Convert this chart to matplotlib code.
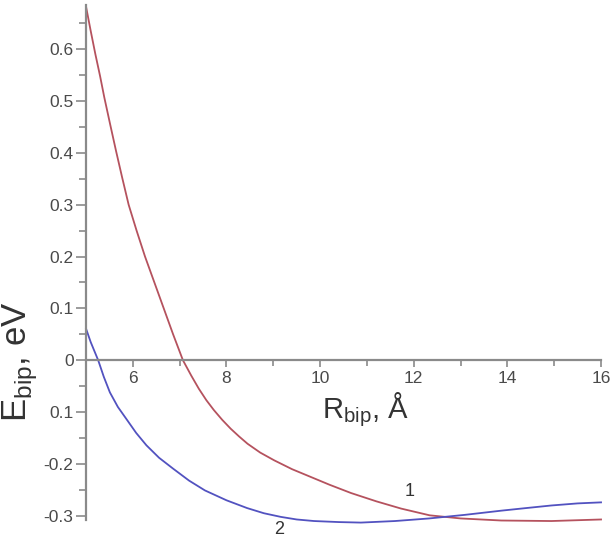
import matplotlib
matplotlib.use('Agg')
import matplotlib.pyplot as plt
from matplotlib.ticker import MultipleLocator, FixedLocator

plt.rcParams['font.family'] = ['Liberation Sans', 'DejaVu Sans']
plt.rcParams['mathtext.fontset'] = 'custom'
plt.rcParams['mathtext.rm'] = 'Liberation Sans'

# curve 1 (red)
r1 = [5.0, 5.1, 5.2, 5.3, 5.39, 5.52, 5.64, 5.77, 5.91, 6.08, 6.26, 6.46,
      6.66, 6.86, 7.07, 7.25, 7.41, 7.57, 7.73, 7.91, 8.09, 8.27, 8.45, 8.72,
      9.02, 9.4, 9.80, 10.2, 10.66, 11.2, 11.73, 12.34, 13.0, 13.87, 14.94, 16.0]
e1 = [0.682, 0.635, 0.59, 0.548, 0.507, 0.453, 0.404, 0.353, 0.3, 0.25, 0.2, 0.15,
      0.1, 0.05, 0.0, -0.03, -0.055, -0.077, -0.096, -0.115, -0.132, -0.147,
      -0.161, -0.178, -0.193, -0.21, -0.225, -0.24, -0.256, -0.272, -0.286,
      -0.299, -0.305, -0.309, -0.31, -0.307]

# curve 2 (blue)
r2 = [5.0, 5.1, 5.26, 5.38, 5.51, 5.68, 5.86, 6.07, 6.29, 6.56, 6.86, 7.2,
      7.54, 8.0, 8.44, 8.8, 9.16, 9.5, 9.87, 10.4, 10.87, 11.6, 12.33, 13.1,
      13.87, 14.4, 14.94, 15.5, 16.0]
e2 = [0.061, 0.035, 0.0, -0.032, -0.062, -0.09, -0.113, -0.14, -0.164, -0.188,
      -0.209, -0.232, -0.251, -0.27, -0.285, -0.295, -0.302, -0.307, -0.310,
      -0.312, -0.313, -0.31, -0.305, -0.298, -0.29, -0.285, -0.28, -0.276, -0.274]

xticks = [6, 8, 10, 12, 14, 16]
yticks = [-0.3, -0.2, -0.1, 0.0, 0.1, 0.2, 0.3, 0.4, 0.5, 0.6]
ytick_labels = ['-0.3', '-0.2', '0.1', '0', '0.1', '0.2', '0.3', '0.4', '0.5', '0.6']

fig = plt.figure(figsize=(6.14, 5.42), dpi=100)
ax = fig.add_axes([0.1401, 0.0406, 0.8388, 0.9502])

ax.plot(r1, e1, color='#b5525e', lw=1.3, clip_on=False)
ax.plot(r2, e2, color='#5252c0', lw=1.3, clip_on=False)

ax.set_xlim(5, 16)
ax.set_ylim(-0.308, 0.685)

ax.spines['top'].set_visible(False)
ax.spines['right'].set_visible(False)
ax.spines['bottom'].set_position(('data', 0))
for s in ('left', 'bottom'):
    ax.spines[s].set_color('#8a8a8a')
    ax.spines[s].set_linewidth(1.6)

ax.xaxis.set_major_locator(FixedLocator(xticks))
ax.xaxis.set_minor_locator(MultipleLocator(1))
ax.set_xticklabels([str(t) for t in xticks])
ax.yaxis.set_major_locator(FixedLocator(yticks))
ax.yaxis.set_minor_locator(MultipleLocator(0.05))
ax.set_yticklabels(ytick_labels)

ax.tick_params(axis='both', which='both', colors='#8a8a8a', width=1.2,
               labelcolor='#4a4a4a', labelsize=12.5)
ax.tick_params(axis='x', which='major', length=5, pad=3)
ax.tick_params(axis='x', which='minor', length=4)
ax.tick_params(axis='y', which='major', length=7, pad=2)
ax.tick_params(axis='y', which='minor', length=5)

ax.text(10.96, -0.096, r'R$_{\mathrm{bip}}$, Å', fontsize=21, color='#333333',
        ha='center', va='center')
fig.text(0.034, 0.332, r'E$_{\mathrm{bip}}$, eV', fontsize=25, color='#333333',
         rotation=90, ha='center', va='center')

ax.text(11.92, -0.254, '1', fontsize=13, color='#333333', ha='center', va='center')
ax.text(9.12, -0.327, '2', fontsize=13, color='#333333', ha='center', va='center',
        clip_on=False)

fig.savefig('out.png', dpi=100)
